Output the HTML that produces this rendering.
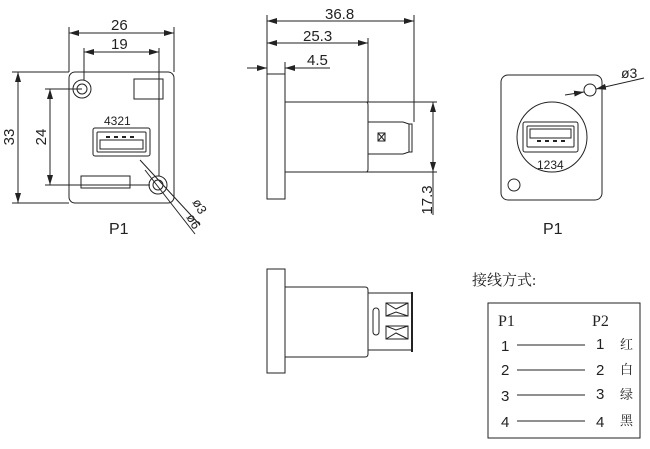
<!DOCTYPE html>
<html><head><meta charset="utf-8"><style>
html,body{margin:0;padding:0;background:#fff;}
svg{display:block;}
text{font-family:"Liberation Sans",sans-serif;fill:#222;}
.cjk{font-family:"Liberation Serif","Noto Serif CJK SC",serif;}
</style></head><body>
<svg width="650" height="449" viewBox="0 0 650 449" xmlns="http://www.w3.org/2000/svg" stroke="#222" fill="none" stroke-width="1">
<defs>
<marker id="a" viewBox="0 0 10 6" refX="10" refY="3" markerWidth="10" markerHeight="6" orient="auto-start-reverse" markerUnits="userSpaceOnUse"><path d="M0,0 L10,3 L0,6z" fill="#222" stroke="none"/></marker>
</defs>

<!-- View 1 -->
<rect x="69" y="72" width="105" height="131" rx="6"/>
<circle cx="82" cy="89" r="9"/><circle cx="82" cy="89" r="5"/>
<rect x="134" y="79" width="29" height="20"/>
<rect x="93" y="128" width="57" height="28" rx="2"/>
<rect x="97" y="132" width="49" height="20" rx="1"/>
<rect x="100" y="140" width="43" height="9"/>
<line x1="106" y1="137" x2="110" y2="137" stroke-width="2"/><line x1="114" y1="137" x2="118" y2="137" stroke-width="2"/><line x1="122" y1="137" x2="126" y2="137" stroke-width="2"/><line x1="130" y1="137" x2="134" y2="137" stroke-width="2"/>
<text x="104" y="125" font-size="12" stroke="none">4321</text>
<rect x="81" y="176" width="49" height="12"/>
<circle cx="158" cy="185" r="9"/><circle cx="158" cy="185" r="5"/>
<line x1="69" y1="72" x2="69" y2="27"/><line x1="174" y1="72" x2="174" y2="27"/>
<line x1="69" y1="33" x2="174" y2="33" marker-start="url(#a)" marker-end="url(#a)"/>
<text x="111" y="30" font-size="15" stroke="none">26</text>
<line x1="84" y1="80" x2="84" y2="48"/><line x1="159" y1="176" x2="159" y2="48"/>
<line x1="84" y1="52" x2="159" y2="52" marker-start="url(#a)" marker-end="url(#a)"/>
<text x="111" y="49" font-size="15" stroke="none">19</text>
<line x1="12" y1="72" x2="69" y2="72"/><line x1="12" y1="203" x2="69" y2="203"/>
<line x1="18" y1="72" x2="18" y2="203" marker-start="url(#a)" marker-end="url(#a)"/>
<text transform="translate(14,137) rotate(-90)" font-size="15" text-anchor="middle" stroke="none">33</text>
<line x1="45" y1="89" x2="82" y2="89"/><line x1="45" y1="185" x2="150" y2="185"/>
<line x1="50" y1="89" x2="50" y2="185" marker-start="url(#a)" marker-end="url(#a)"/>
<text transform="translate(46,137) rotate(-90)" font-size="15" text-anchor="middle" stroke="none">24</text>
<line x1="140" y1="160" x2="200" y2="225"/><line x1="145" y1="170" x2="195" y2="234"/>
<text transform="translate(192,202) rotate(60)" font-size="13" stroke="none">ø3</text>
<text transform="translate(186,217) rotate(60)" font-size="13" stroke="none">ø6</text>
<text x="109" y="234" font-size="16" stroke="none">P1</text>

<!-- View 2 -->
<rect x="267" y="74" width="18" height="125"/>
<line x1="285" y1="102" x2="437" y2="102"/>
<line x1="285" y1="172" x2="437" y2="172"/>
<path d="M366,102 q2,0 2,3 v64 q0,3 -2,3"/>
<path d="M368,122 h35 l6,2 v28 l-6,2 h-35"/>
<path d="M409,124 h3 v28 h-3"/>
<rect x="378" y="133" width="7" height="8"/><path d="M378,133 l7,8 M385,133 l-7,8"/>
<line x1="267" y1="74" x2="267" y2="15"/><line x1="414" y1="122" x2="414" y2="15"/>
<line x1="267" y1="21" x2="414" y2="21" marker-start="url(#a)" marker-end="url(#a)"/>
<text x="325" y="19" font-size="15" stroke="none">36.8</text>
<line x1="368" y1="102" x2="368" y2="38"/>
<line x1="267" y1="43" x2="368" y2="43" marker-start="url(#a)" marker-end="url(#a)"/>
<text x="303" y="41" font-size="15" stroke="none">25.3</text>
<line x1="285" y1="74" x2="285" y2="62"/>
<line x1="247" y1="68" x2="267" y2="68" marker-end="url(#a)"/>
<line x1="330" y1="68" x2="285" y2="68" marker-end="url(#a)"/>
<text x="307" y="65" font-size="15" stroke="none">4.5</text>
<line x1="433" y1="102" x2="433" y2="172" marker-start="url(#a)" marker-end="url(#a)"/>
<line x1="433" y1="172" x2="433" y2="215"/>
<text transform="translate(432,200) rotate(-90)" font-size="15" text-anchor="middle" stroke="none">17.3</text>

<!-- View 3 -->
<rect x="501" y="75" width="101" height="125" rx="7"/>
<circle cx="552" cy="137" r="35"/>
<rect x="523" y="122" width="55" height="30" rx="2"/>
<rect x="527" y="126" width="47" height="21" rx="1"/>
<rect x="530" y="129" width="41" height="9"/>
<line x1="537" y1="141" x2="541" y2="141" stroke-width="2"/><line x1="545" y1="141" x2="549" y2="141" stroke-width="2"/><line x1="553" y1="141" x2="557" y2="141" stroke-width="2"/><line x1="561" y1="141" x2="565" y2="141" stroke-width="2"/>
<text x="537" y="169" font-size="12" stroke="none">1234</text>
<circle cx="590" cy="90" r="6"/>
<circle cx="514" cy="185" r="6"/>
<line x1="565" y1="95" x2="584" y2="92" marker-end="url(#a)"/>
<line x1="644" y1="78" x2="596" y2="89" marker-end="url(#a)"/>
<text x="621" y="78" font-size="14" stroke="none">ø3</text>
<text x="543" y="234" font-size="16" stroke="none">P1</text>

<!-- View 4 -->
<rect x="267" y="269" width="18" height="104"/>
<path d="M285,287 h80 q3,0 3,3 v64 q0,3 -3,3 h-80"/>
<path d="M368,293 h45 M368,350 h45"/>
<path d="M412,292 v60" stroke-width="2"/>
<rect x="373" y="308" width="6" height="27" rx="3"/>
<path d="M386,303 h22 v13 h-22 z M386,303 l10,6 l12,-6 M386,316 l10,-4 l12,4"/>
<path d="M386,326 h22 v13 h-22 z M386,326 l10,4 l12,-4 M386,339 l10,-6 l12,6"/>

<!-- wiring -->
<text x="472" y="285" font-size="15" class="cjk" stroke="none">接线方式:</text>
<rect x="488" y="303" width="152" height="135"/>
<text x="498" y="326" font-size="16" class="cjk" stroke="none">P1</text>
<text x="592" y="326" font-size="16" class="cjk" stroke="none">P2</text>
<g font-size="15" stroke="none">
<text x="501" y="351">1</text><text x="596" y="349">1</text><text x="620" y="349" class="cjk" font-size="13">红</text>
<text x="501" y="375">2</text><text x="596" y="375">2</text><text x="620" y="374" class="cjk" font-size="13">白</text>
<text x="501" y="401">3</text><text x="596" y="399">3</text><text x="620" y="399" class="cjk" font-size="13">绿</text>
<text x="501" y="427">4</text><text x="596" y="427">4</text><text x="620" y="425" class="cjk" font-size="13">黑</text>
</g>
<line x1="517" y1="345" x2="585" y2="345"/>
<line x1="517" y1="370" x2="585" y2="370"/>
<line x1="517" y1="395" x2="585" y2="395"/>
<line x1="517" y1="421" x2="585" y2="421"/>
</svg>
</body></html>
